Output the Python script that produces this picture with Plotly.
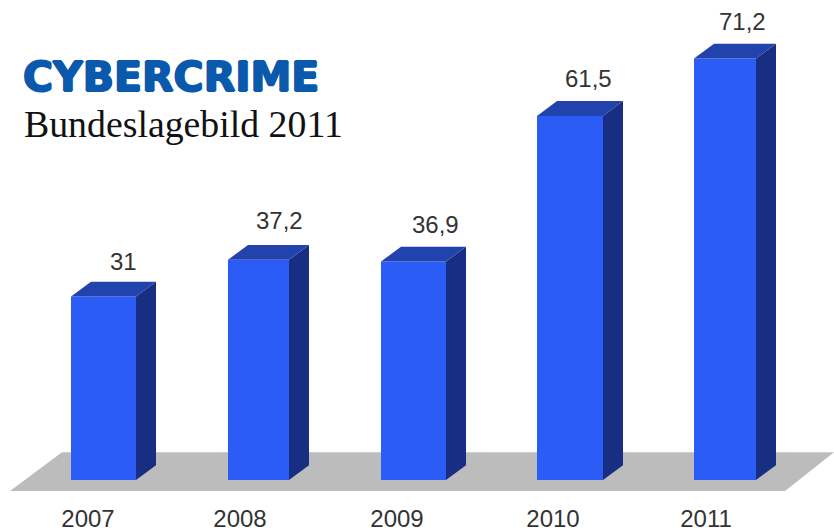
import plotly.graph_objects as go

# Cases per year (thousands), as printed above the columns
years = ["2007", "2008", "2009", "2010", "2011"]
values = [31, 37.2, 36.9, 61.5, 71.2]

# Horizontal layout of the columns, in x-axis units
col_left = [71, 228, 381, 537, 694]
col_right = [136, 289, 446, 603, 756]
year_pos = [88, 240, 397, 553, 706]
label_pos = [123, 279, 435, 588, 742]
label_rise = [35, 39, 37, 37, 37]

# Oblique depth of the pseudo-3D columns
depth_x = 20
depth_y = 2.5

FRONT = "#2b5cf6"
SIDE = "#182e82"
TOP = "#2243ae"
FLOOR = "#bcbcbc"
INK = "#333333"
TITLE_BLUE = "#0b59ac"


def polygon(xs, ys, color):
    return go.Scatter(x=xs, y=ys, mode="lines", fill="toself", fillcolor=color,
                      line=dict(width=0, color=color), hoverinfo="skip", showlegend=False)


fig = go.Figure()

fig.add_trace(go.Bar(
    x=[(l + r) / 2 for l, r in zip(col_left, col_right)],
    y=values,
    width=[r - l for l, r in zip(col_left, col_right)],
    marker=dict(color=FRONT, line=dict(width=0)),
    showlegend=False,
))

for left, right, v in zip(col_left, col_right, values):
    fig.add_trace(polygon([right, right + depth_x, right + depth_x, right, right],
                          [0, depth_y, v + depth_y, v, 0], SIDE))
    fig.add_trace(polygon([left, left + depth_x, right + depth_x, right, left],
                          [v, v + depth_y, v + depth_y, v, v], TOP))

annotations = [
    dict(x=x, y=v, xref="x", yref="y", text=f"{v:g}".replace(".", ","), showarrow=False,
         yanchor="middle", yshift=rise, font=dict(family="Liberation Sans", size=24, color=INK))
    for x, v, rise in zip(label_pos, values, label_rise)
]
# Title rows sit a fixed distance below the top of the plot area
annotations += [
    dict(x=21, y=1, xref="x", yref="paper", xanchor="left", yanchor="middle", yshift=-77,
         text="<b>CYBERCRIME</b>", showarrow=False,
         font=dict(family="DejaVu Sans", size=41, color=TITLE_BLUE,
                   shadow=f"1px 0 0 {TITLE_BLUE}, -1px 0 0 {TITLE_BLUE}, 0 1px 0 {TITLE_BLUE}, 0 -1px 0 {TITLE_BLUE}")),
    dict(x=22, y=1, xref="x", yref="paper", xanchor="left", yanchor="middle", yshift=-124,
         text="Bundeslagebild 2011", showarrow=False,
         font=dict(family="Liberation Serif", size=37.8, color="#111111")),
]

fig.update_layout(
    width=834,
    height=532,
    margin=dict(l=0, r=0, t=0, b=30),
    paper_bgcolor="white",
    plot_bgcolor="white",
    annotations=annotations,
    shapes=[dict(type="path", layer="below", xref="x", yref="y", line=dict(width=0),
                 fillcolor=FLOOR, path="M 10 -1.86 L 62 4.7 L 834 4.7 L 785 -1.86 Z")],
    xaxis=dict(range=[0, 834], tickmode="array", tickvals=year_pos, ticktext=years,
               showgrid=False, zeroline=False, showline=False, ticks="", automargin=False,
               tickfont=dict(family="Liberation Sans", size=24, color=INK)),
    yaxis=dict(range=[-3.72, 81.08], visible=False, automargin=False),
)

fig.write_html("out.html")
